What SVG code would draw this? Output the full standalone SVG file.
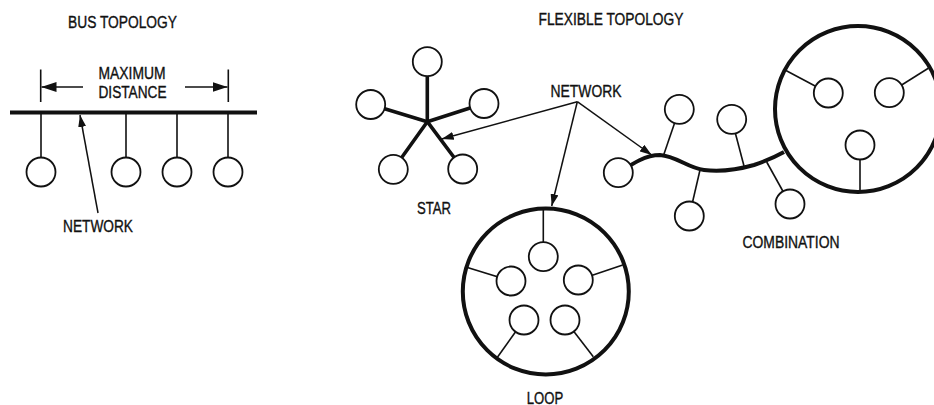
<svg xmlns="http://www.w3.org/2000/svg" width="934" height="405" viewBox="0 0 934 405">
<style>
text{font-family:"Liberation Sans",Arial,Helvetica,sans-serif;font-size:16px;fill:#111;stroke:#111;stroke-width:0.35;text-anchor:middle}
.n{fill:#fff;stroke:#111;stroke-width:1.8}
.t{stroke:#111;stroke-width:1.6;fill:none}
.k{stroke:#111;stroke-width:4;fill:none}
.s{stroke:#111;stroke-width:3.6;fill:none;stroke-linecap:round}
.a{stroke:#111;stroke-width:1.5;fill:none}
</style>
<defs>
<marker id="ah" viewBox="0 0 12 8" refX="12" refY="4" markerWidth="12" markerHeight="8" markerUnits="userSpaceOnUse" orient="auto"><path d="M0,0 L12,4 L0,8 Z" fill="#111"/></marker>
<marker id="dh" viewBox="0 0 15 10" refX="15" refY="5" markerWidth="15" markerHeight="10" markerUnits="userSpaceOnUse" orient="auto"><path d="M0,0 L15,5 L0,10 Z" fill="#111"/></marker>
</defs>
<rect width="934" height="405" fill="#fff"/>

<g id="labels">
<text x="122.5" y="28" textLength="109" lengthAdjust="spacingAndGlyphs">BUS TOPOLOGY</text>
<text x="611" y="25" textLength="145" lengthAdjust="spacingAndGlyphs">FLEXIBLE TOPOLOGY</text>
<text x="132" y="79" textLength="67" lengthAdjust="spacingAndGlyphs">MAXIMUM</text>
<text x="132.5" y="98" textLength="68" lengthAdjust="spacingAndGlyphs">DISTANCE</text>
<text x="98" y="232" textLength="70" lengthAdjust="spacingAndGlyphs">NETWORK</text>
<text x="586" y="96.5" textLength="71" lengthAdjust="spacingAndGlyphs">NETWORK</text>
<text x="434" y="214" textLength="34" lengthAdjust="spacingAndGlyphs">STAR</text>
<text x="791" y="248" textLength="97" lengthAdjust="spacingAndGlyphs">COMBINATION</text>
<text x="545" y="403.5" textLength="36.5" lengthAdjust="spacingAndGlyphs">LOOP</text>
</g>

<g id="connectors">
<!-- bus -->
<line class="k" x1="10" y1="112.5" x2="257" y2="112.5"/>
<line class="t" x1="41" y1="112" x2="41" y2="158"/>
<line class="t" x1="126" y1="112" x2="126" y2="158"/>
<line class="t" x1="177" y1="112" x2="177" y2="158"/>
<line class="t" x1="228" y1="112" x2="228" y2="158"/>
<line class="t" x1="40.7" y1="69.5" x2="40.7" y2="102"/>
<line class="t" x1="228.3" y1="69.5" x2="228.3" y2="102"/>
<line class="a" x1="83" y1="87" x2="41.5" y2="87" marker-end="url(#dh)"/>
<line class="a" x1="185" y1="87" x2="227.5" y2="87" marker-end="url(#dh)"/>
<line class="a" x1="98" y1="213" x2="80" y2="115" marker-end="url(#ah)"/>
<!-- star spokes -->
<line class="s" x1="427.3" y1="121.7" x2="427.3" y2="61.7"/>
<line class="s" x1="427.3" y1="121.7" x2="370.7" y2="104.5"/>
<line class="s" x1="427.3" y1="121.7" x2="484" y2="103.5"/>
<line class="s" x1="427.3" y1="121.7" x2="393.3" y2="169.3"/>
<line class="s" x1="427.3" y1="121.7" x2="462.7" y2="169"/>
<!-- network arrows -->
<line class="a" x1="577.3" y1="101.7" x2="441.7" y2="139" marker-end="url(#ah)"/>
<line class="a" x1="577.3" y1="101.7" x2="551.7" y2="206" marker-end="url(#ah)"/>
<line class="a" x1="577.3" y1="101.7" x2="651.7" y2="155" marker-end="url(#ah)"/>
<!-- combination -->
<path class="k" d="M620 172 C632 164, 645 155, 660 155 C676 156, 688 168, 704 170 C720 172, 740 169, 754 165 C766 161, 775 157, 784 152"/>
<line class="t" x1="663.3" y1="156" x2="679.3" y2="109.3"/>
<line class="t" x1="744" y1="166" x2="731.7" y2="119.3"/>
<line class="t" x1="700" y1="170" x2="689.3" y2="216"/>
<line class="t" x1="766.7" y1="162" x2="790" y2="204"/>
<line class="t" x1="785" y1="70" x2="828.3" y2="93"/>
<line class="t" x1="928.3" y1="68.3" x2="889.3" y2="92.7"/>
<line class="t" x1="860" y1="192" x2="860" y2="145"/>
<!-- loop -->
<line class="t" x1="543.3" y1="208.5" x2="543.3" y2="256.7"/>
<line class="t" x1="465" y1="266.7" x2="511" y2="281"/>
<line class="t" x1="622.7" y1="265" x2="578.3" y2="280"/>
<line class="t" x1="496.7" y1="358.3" x2="524" y2="320"/>
<line class="t" x1="593.3" y1="356.7" x2="565" y2="320"/>
</g>

<g id="bus-nodes">
<circle id="bus-n1" class="n" cx="41" cy="172" r="14.5"/>
<circle id="bus-n2" class="n" cx="126" cy="172" r="14.5"/>
<circle id="bus-n3" class="n" cx="177" cy="172" r="14.5"/>
<circle id="bus-n4" class="n" cx="228" cy="172" r="14.5"/>
</g>

<g id="star">
<circle id="star-top" class="n" cx="427.3" cy="61.7" r="14.5"/>
<circle id="star-left" class="n" cx="370.7" cy="104.5" r="14.5"/>
<circle id="star-right" class="n" cx="484" cy="103.5" r="14.5"/>
<circle id="star-ll" class="n" cx="393.3" cy="169.3" r="14.5"/>
<circle id="star-lr" class="n" cx="462.7" cy="169" r="14.5"/>
</g>

<g id="loop">
<circle id="loop-ring" class="k" cx="545.8" cy="291.5" r="83"/>
<circle id="loop-top" class="n" cx="543.3" cy="256.7" r="14.5"/>
<circle id="loop-left" class="n" cx="511" cy="281" r="14.5"/>
<circle id="loop-right" class="n" cx="578.3" cy="280" r="14.5"/>
<circle id="loop-ll" class="n" cx="524" cy="320" r="14.5"/>
<circle id="loop-lr" class="n" cx="565" cy="320" r="14.5"/>
</g>

<g id="combination">
<circle id="comb-left" class="n" cx="618.3" cy="172.7" r="14.5"/>
<circle id="comb-up1" class="n" cx="679.3" cy="109.3" r="14.5"/>
<circle id="comb-up2" class="n" cx="731.7" cy="119.3" r="14.5"/>
<circle id="comb-down1" class="n" cx="689.3" cy="216" r="14.5"/>
<circle id="comb-down2" class="n" cx="790" cy="204" r="14.5"/>
<circle id="comb-ring" class="k" cx="858" cy="109" r="83"/>
<circle id="comb-a" class="n" cx="828.3" cy="93" r="14.5"/>
<circle id="comb-b" class="n" cx="889.3" cy="92.7" r="14.5"/>
<circle id="comb-c" class="n" cx="860" cy="145" r="14.5"/>
</g>
</svg>
